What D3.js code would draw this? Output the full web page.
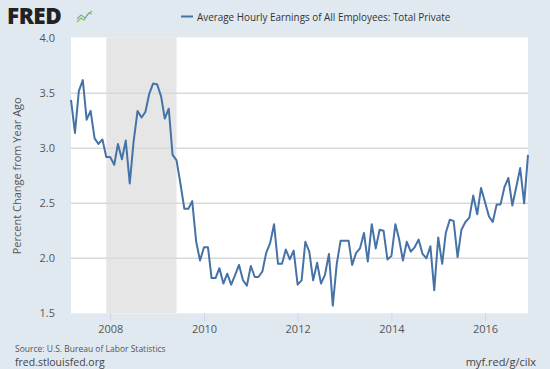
<!DOCTYPE html>
<html><head><meta charset="utf-8">
<script src="https://cdn.jsdelivr.net/npm/d3@7"></script>
<style>
body{margin:0;background:#e1e9f0;}
svg{display:block;font-family:"Open Sans",sans-serif;}
</style></head><body>
<svg id="c" width="550" height="369"></svg>
<script>
const startMonth = "2007-03";
const values = [
3.44,3.14,3.52,3.62,3.26,3.34,3.09,3.04,3.08,2.92,
2.92,2.85,3.04,2.90,3.07,2.68,3.06,3.34,3.28,3.33,3.50,3.59,
3.58,3.47,3.27,3.36,2.94,2.89,2.68,2.45,2.45,2.52,2.15,1.98,
2.10,2.10,1.82,1.82,1.91,1.77,1.86,1.76,1.85,1.94,1.80,1.75,
1.93,1.83,1.83,1.88,2.05,2.14,2.31,1.95,1.95,2.08,1.99,2.07,
1.76,1.80,2.15,2.06,1.80,1.96,1.77,1.85,2.04,1.57,1.95,2.16,
2.16,2.16,1.94,2.05,2.09,2.23,1.97,2.31,2.09,2.26,2.25,1.99,
2.02,2.31,2.18,1.98,2.15,2.06,2.10,2.17,2.04,2.00,2.11,1.71,
2.19,1.95,2.23,2.35,2.34,2.01,2.26,2.33,2.37,2.57,2.40,2.64,
2.51,2.38,2.33,2.49,2.49,2.65,2.73,2.48,2.65,2.82,2.50,2.94
];
const recessions = [["2007-12","2009-06"]];
const yTicks = [1.5,2.0,2.5,3.0,3.5,4.0];
const xTickYears = [2008,2010,2012,2014,2016];
const seriesName = "Average Hourly Earnings of All Employees: Total Private";
const yLabel = "Percent Change from Year Ago";

const parse = d3.timeParse("%Y-%m");
const t0 = parse(startMonth);
const data = values.map((v,i)=>({date:d3.timeMonth.offset(t0,i), v}));

const svg = d3.select("#c");
const L=71, R=528, T=38.3, B=313.3;
const x = d3.scaleTime().domain([data[0].date, data[data.length-1].date]).range([L,R]);
const y = d3.scaleLinear().domain([1.5,4.0]).range([B,T]);

svg.append("rect").attr("x",L).attr("y",T-1).attr("width",R-L).attr("height",B-T+1).attr("fill","#fff");

recessions.forEach(r=>{
  const a=x(parse(r[0])), b=x(parse(r[1]));
  svg.append("rect").attr("x",a).attr("y",T-1).attr("width",b-a).attr("height",B-T+1).attr("fill","#e6e6e6");
});

svg.append("g").selectAll("line").data(yTicks.filter(d=>d>1.5&&d<4)).join("line")
  .attr("x1",L).attr("x2",R).attr("y1",d=>y(d)).attr("y2",d=>y(d))
  .attr("stroke","#d9d9d9").attr("stroke-width",1.5);

const yAxis = d3.axisLeft(y).tickValues(yTicks).tickFormat(d3.format(".1f")).tickSize(0).tickPadding(0);
const ya = svg.append("g").attr("transform",`translate(${L-16},0)`).call(yAxis);
ya.select(".domain").remove();
ya.selectAll("text").attr("font-size",11).attr("fill","#555").attr("font-family","Open Sans");

const xAxis = d3.axisBottom(x).tickValues(xTickYears.map(yr=>new Date(yr,0,1))).tickFormat(d3.timeFormat("%Y")).tickSize(8).tickPadding(4);
const xa = svg.append("g").attr("transform",`translate(0,${B})`).call(xAxis);
xa.select(".domain").remove();
xa.selectAll("line").attr("stroke","#ccd6eb");
xa.selectAll("text").attr("font-size",11).attr("fill","#555").attr("font-family","Open Sans");

svg.append("path").datum(data)
  .attr("d",d3.line().x(d=>x(d.date)).y(d=>y(d.v)))
  .attr("fill","none").attr("stroke","#4572a7").attr("stroke-width",2).attr("stroke-linejoin","round");

svg.append("text").attr("transform",`translate(21,${(T+B)/2}) rotate(-90)`).attr("text-anchor","middle")
  .attr("font-size",11).attr("fill","#555").text(yLabel);

svg.append("line").attr("x1",181).attr("x2",193).attr("y1",16.5).attr("y2",16.5).attr("stroke","#4572a7").attr("stroke-width",2);
svg.append("text").attr("x",197).attr("y",20.5).attr("font-size",9.9).attr("fill","#333").text(seriesName);

svg.append("text").attr("x",7).attr("y",24).attr("font-size",22.5).attr("font-weight",800)
  .attr("font-family","Open Sans").attr("letter-spacing",-0.5).attr("fill","#222").text("FRED");
const icon = svg.append("g").attr("transform","translate(76,9)");
icon.append("path").attr("d","M1,13 L5,9 L8,11 L12,5 L16,2").attr("fill","none").attr("stroke","#8cc63f").attr("stroke-width",1.3);
icon.append("path").attr("d","M1,10 L5,6 L9,9 L13,4 L16,5").attr("fill","none").attr("stroke","#7fa3c8").attr("stroke-width",1.1);

svg.append("text").attr("x",15).attr("y",352).attr("font-size",8.5).attr("fill","#555").text("Source: U.S. Bureau of Labor Statistics");
svg.append("text").attr("x",15).attr("y",366).attr("font-size",10.5).attr("fill","#444").text("fred.stlouisfed.org");
svg.append("text").attr("x",536).attr("y",366).attr("text-anchor","end").attr("font-size",11).attr("fill","#444").text("myf.red/g/cilx");
</script></body></html>
